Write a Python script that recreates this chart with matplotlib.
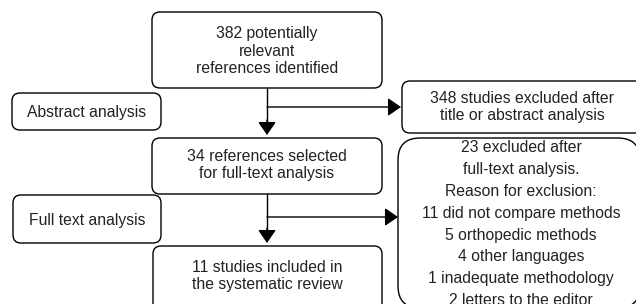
import matplotlib.pyplot as plt
from matplotlib.patches import FancyBboxPatch

plt.rcParams['font.family'] = ['Liberation Sans', 'DejaVu Sans']

# box texts
identified = ["382 potentially", "relevant", "references identified"]
selected = ["34 references selected", "for full-text analysis"]
included = ["11 studies included in", "the systematic review"]
stage_labels = ["Abstract analysis", "Full text analysis"]
excluded_abstract = ["348 studies excluded after", "title or abstract analysis"]
excluded_full = ["23 excluded after", "full-text analysis.", "Reason for exclusion:",
                 "11 did not compare methods", "5 orthopedic methods",
                 "4 other languages", "1 inadequate methodology",
                 "2 letters to the editor"]

fig = plt.figure(figsize=(6.36, 3.04), dpi=100)
ax = fig.add_axes([0, 0, 1, 1])
ax.set_xlim(0, 636)
ax.set_ylim(304, 0)
ax.axis("off")

FS = 11.3
TXT = "#222222"


def box(x0, y0, x1, y1, r=8):
    p = FancyBboxPatch((x0, y0), x1 - x0, y1 - y0,
                       boxstyle=f"round,pad=0,rounding_size={r}",
                       fc="white", ec="black", lw=1.0)
    ax.add_patch(p)


def label(x, y, lines, ls=1.2):
    ax.text(x, y, "\n".join(lines), ha="center", va="center", fontsize=FS,
            color=TXT, linespacing=ls)


def arrow(x0, y0, x1, y1):
    ax.annotate("", xy=(x1, y1), xytext=(x0, y0),
                arrowprops=dict(arrowstyle="-|>,head_length=0.8,head_width=0.55",
                                mutation_scale=10, color="black", lw=1.0,
                                shrinkA=0, shrinkB=0))


# main column
box(152, 12, 382, 88)
label(267, 51, identified)
box(152, 138, 382, 194)
label(267, 165, selected)
box(153, 246, 382, 325)
label(267, 276, included)

# stage labels
box(12, 93, 161, 130)
label(86.5, 112, stage_labels[:1])
box(13, 195, 161, 243)
label(87, 220, stage_labels[1:])

# exclusion boxes
box(402, 81, 642, 133)
label(522, 107, excluded_abstract)
box(398, 138, 640, 308, r=22)
for i, t in enumerate(excluded_full):
    ax.text(521, 148 + i * 21.8, t, ha="center", va="center",
            fontsize=FS, color=TXT)

# arrows
ax.plot([267, 267], [88, 124], color="black", lw=1.0)
arrow(267, 120, 267, 135)
arrow(267, 107, 401, 107)
ax.plot([267, 267], [194, 232], color="black", lw=1.0)
arrow(267, 228, 267, 243)
arrow(267, 217, 398, 217)

fig.savefig("out.png", dpi=100)
